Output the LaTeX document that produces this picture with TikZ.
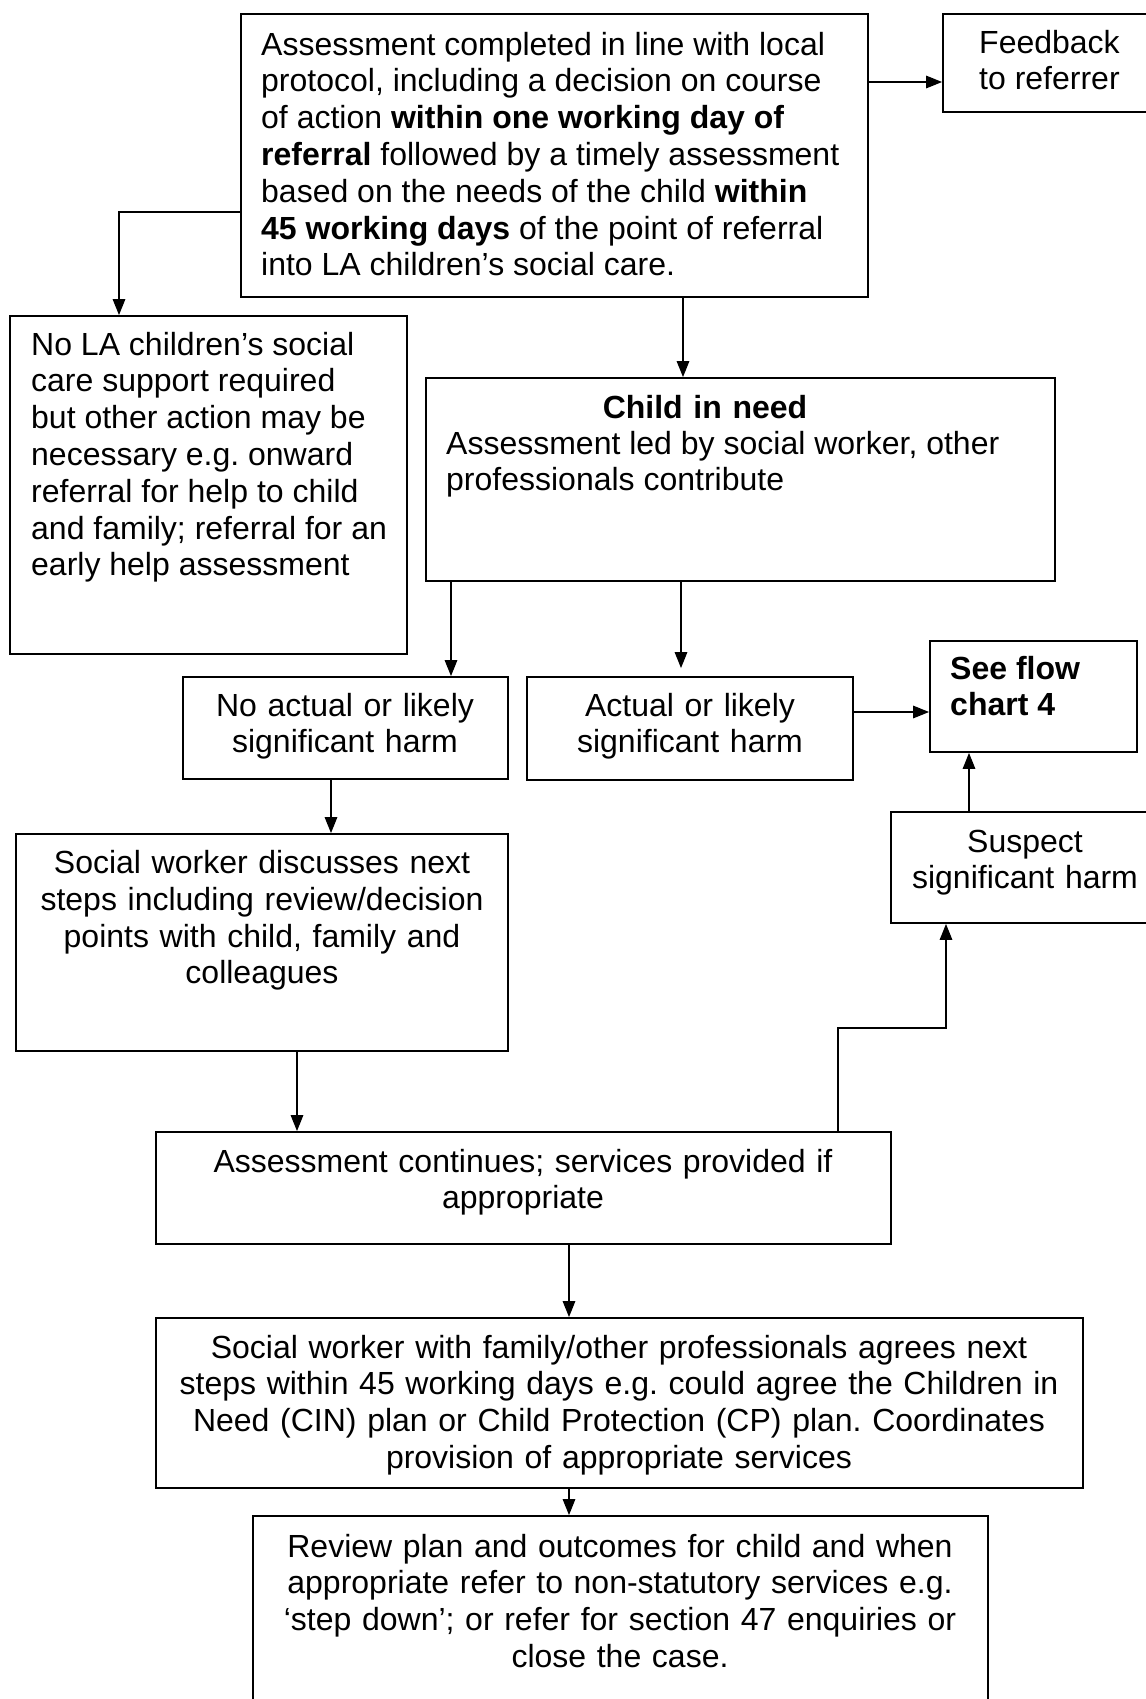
\documentclass[tikz,border=0pt]{standalone}
\usepackage{fontspec}
\setmainfont{Liberation Sans}
\usetikzlibrary{arrows.meta,fit}
\newcommand\fsz{\fontsize{32bp}{36.8bp}\selectfont\frenchspacing}
\frenchspacing
\begin{document}
\begin{tikzpicture}[x=1bp,y=-1bp,
  box/.style={draw, line width=1.8bp, inner sep=0pt},
  arr/.style={-{Triangle[length=16bp,width=12.5bp]}, line width=1.4bp},
  ltxt/.style={inner sep=0pt, font=\fsz, text width=700bp, align=flush left, anchor=base west},
  ctxt/.style={inner sep=0pt, font=\fsz, text width=900bp, align=center, anchor=base}]
\useasboundingbox (0,0) rectangle (1145,1699);
\fill[white] (0,0) rectangle (1145,1699);
% boxes
\node[box, fit={(241,14)(868,297)}] (top) {};
\node[box, fit={(943,14)(1150,112)}] (fb) {};
\node[box, fit={(10,316)(407,654)}] (nola) {};
\node[box, fit={(426,378)(1055,581)}] (cin) {};
\node[box, fit={(183,677)(508,779)}] (noact) {};
\node[box, fit={(527,677)(853,780)}] (act) {};
\node[box, fit={(930,641)(1137,752)}] (see) {};
\node[box, fit={(891,812)(1150,923)}] (susp) {};
\node[box, fit={(16,834)(508,1051)}] (sw1) {};
\node[box, fit={(156,1132)(891,1244)}] (ac) {};
\node[box, fit={(156,1318)(1083,1488)}] (sw2) {};
\node[box, fit={(253,1516)(988,1730)}] (rev) {};
% texts
\node[ltxt] (toptxt) at (261,55) {Assessment completed in line with local\\
protocol, including a decision on course\\
of action \textbf{within one working day of}\\
\textbf{referral} followed by a timely assessment\\
based on the needs of the child \textbf{within}\\
\textbf{45 working days} of the point of referral\\
into LA children’s social care.};
\node[ltxt] (fbtxt) at (979,53) {Feedback\\to referrer};
\node[ltxt] (nolatxt) at (31,355) {No LA children’s social\\
care support required\\
but other action may be\\
necessary e.g. onward\\
referral for help to child\\
and family; referral for an\\
early help assessment};
\node[ctxt, font=\fsz\bfseries] (cintitle) at (705,418) {Child in need};
\node[ltxt] (cintxt) at (446,454) {Assessment led by social worker, other\\
professionals contribute};
\node[ctxt] (noacttxt) at (345,716) {No actual or likely\\significant harm};
\node[ctxt] (acttxt) at (690,716) {Actual or likely\\significant harm};
\node[ltxt, font=\fsz\bfseries] (seetxt) at (950,679) {See flow\\chart 4};
\node[ctxt] (susptxt) at (1025,852) {Suspect\\significant harm};
\node[ctxt] (sw1txt) at (262,873.5) {Social worker discusses next\\
steps including review/decision\\
points with child, family and\\
colleagues};
\node[ctxt] (actxt) at (523,1172) {Assessment continues; services provided if\\appropriate};
\node[ctxt] (sw2txt) at (619,1358) {Social worker with family/other professionals agrees next\\
steps within 45 working days e.g. could agree the Children in\\
Need (CIN) plan or Child Protection (CP) plan. Coordinates\\
provision of appropriate services};
\node[ctxt] (revtxt) at (620,1557) {Review plan and outcomes for child and when\\
appropriate refer to non-statutory services e.g.\\
‘step down’; or refer for section 47 enquiries or\\
close the case.};
% connectors
\draw[arr] (top.east |- 0,82) -- (fb.west |- 0,82);
\draw[arr] (top.west |- 0,212) -| (nola.north -| 119,0);
\draw[arr] (top.south -| 683,0) -- (cin.north -| 683,0);
\draw[arr] (cin.south -| 451,0) -- (noact.north -| 451,0);
\draw[arr, shorten >=8bp] (cin.south -| 681,0) -- (act.north -| 681,0);
\draw[arr] (act.east |- 0,712) -- (see.west |- 0,712);
\draw[arr] (susp.north -| 969,0) -- (see.south -| 969,0);
\draw[arr] (noact.south -| 331,0) -- (sw1.north -| 331,0);
\draw[arr] (sw1.south -| 297,0) -- (ac.north -| 297,0);
\draw[arr] (ac.north -| 838,0) -- (838,1028) -| (susp.south -| 946,0);
\draw[arr] (ac.south -| 569,0) -- (sw2.north -| 569,0);
\draw[arr] (sw2.south -| 569,0) -- (rev.north -| 569,0);
\end{tikzpicture}
\end{document}
